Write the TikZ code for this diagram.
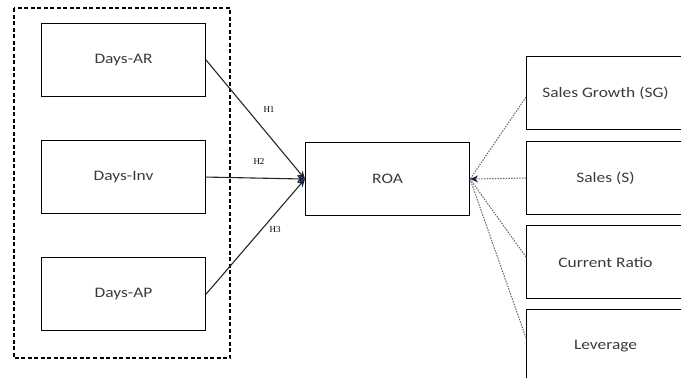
\documentclass[tikz,border=0pt]{standalone}
\usepackage{fontspec}
\setmainfont{Carlito}[FakeStretch=1.2]
\newfontfamily\hfont{Liberation Serif}
\usetikzlibrary{arrows.meta}
\definecolor{tipnavy}{HTML}{1B2440}
\definecolor{txtgray}{HTML}{3A3A3A}
\begin{document}
\begin{tikzpicture}[x=1pt,y=-1pt,
  box/.style={draw=black,line width=1.1pt,minimum width=164pt,minimum height=73pt,anchor=north west,inner sep=0pt,text=txtgray,font=\fontsize{14.5}{16}\selectfont},
  rbox/.style={box,minimum width=170pt},
  link/.style={draw=black!85,line width=1.1pt,-{Stealth[length=8pt,width=7pt,color=tipnavy]}},
  dlink/.style={draw=black!60,line width=1pt,dash pattern=on 1.5pt off 1.2pt},
  hlab/.style={font=\hfont\fontsize{9}{10}\selectfont,inner sep=0pt}]
\useasboundingbox (0,0) rectangle (681,378);
\begin{scope}
\clip (0,0) rectangle (681,378);
\draw[line width=1.2pt,dash pattern=on 4pt off 2.5pt] (14,8) rectangle (230,358);
\node[box] (ar) at (41,23) {Days-AR};
\node[box] (inv) at (41,140) {Days-Inv};
\node[box] (ap) at (41,257) {Days-AP};
\node[box] (roa) at (305,142) {ROA};
\node[rbox] (sg) at (526,56) {\hspace*{-12pt}Sales Growth (SG)};
\node[rbox] (s) at (526,141) {\hspace*{-12pt}Sales (S)};
\node[rbox] (cr) at (526,225) {\hspace*{-12pt}Current Ratio};
\node[rbox] (lev) at (526,309) {\hspace*{-12pt}Leverage};
\coordinate (sgin) at (526,97);
\coordinate (crin) at (526,257);
\coordinate (levin) at (526,338);
\draw[link] (ar.east) -- (roa.west);
\draw[link] (inv.east) -- (roa.west);
\draw[link] (ap.east) -- (roa.west);
\draw[dlink] (sgin) -- (roa.east);
\draw[dlink] (crin) -- (roa.east);
\draw[dlink] (levin) -- (roa.east);
\draw[dlink,-{Stealth[length=8pt,width=7pt,color=tipnavy]}] (s.west) -- (roa.east);
\node[hlab] (h1) at (269,110) {H1};
\node[hlab] (h2) at (259,162) {H2};
\node[hlab] (h3) at (275,230) {H3};
\end{scope}
\end{tikzpicture}
\end{document}
